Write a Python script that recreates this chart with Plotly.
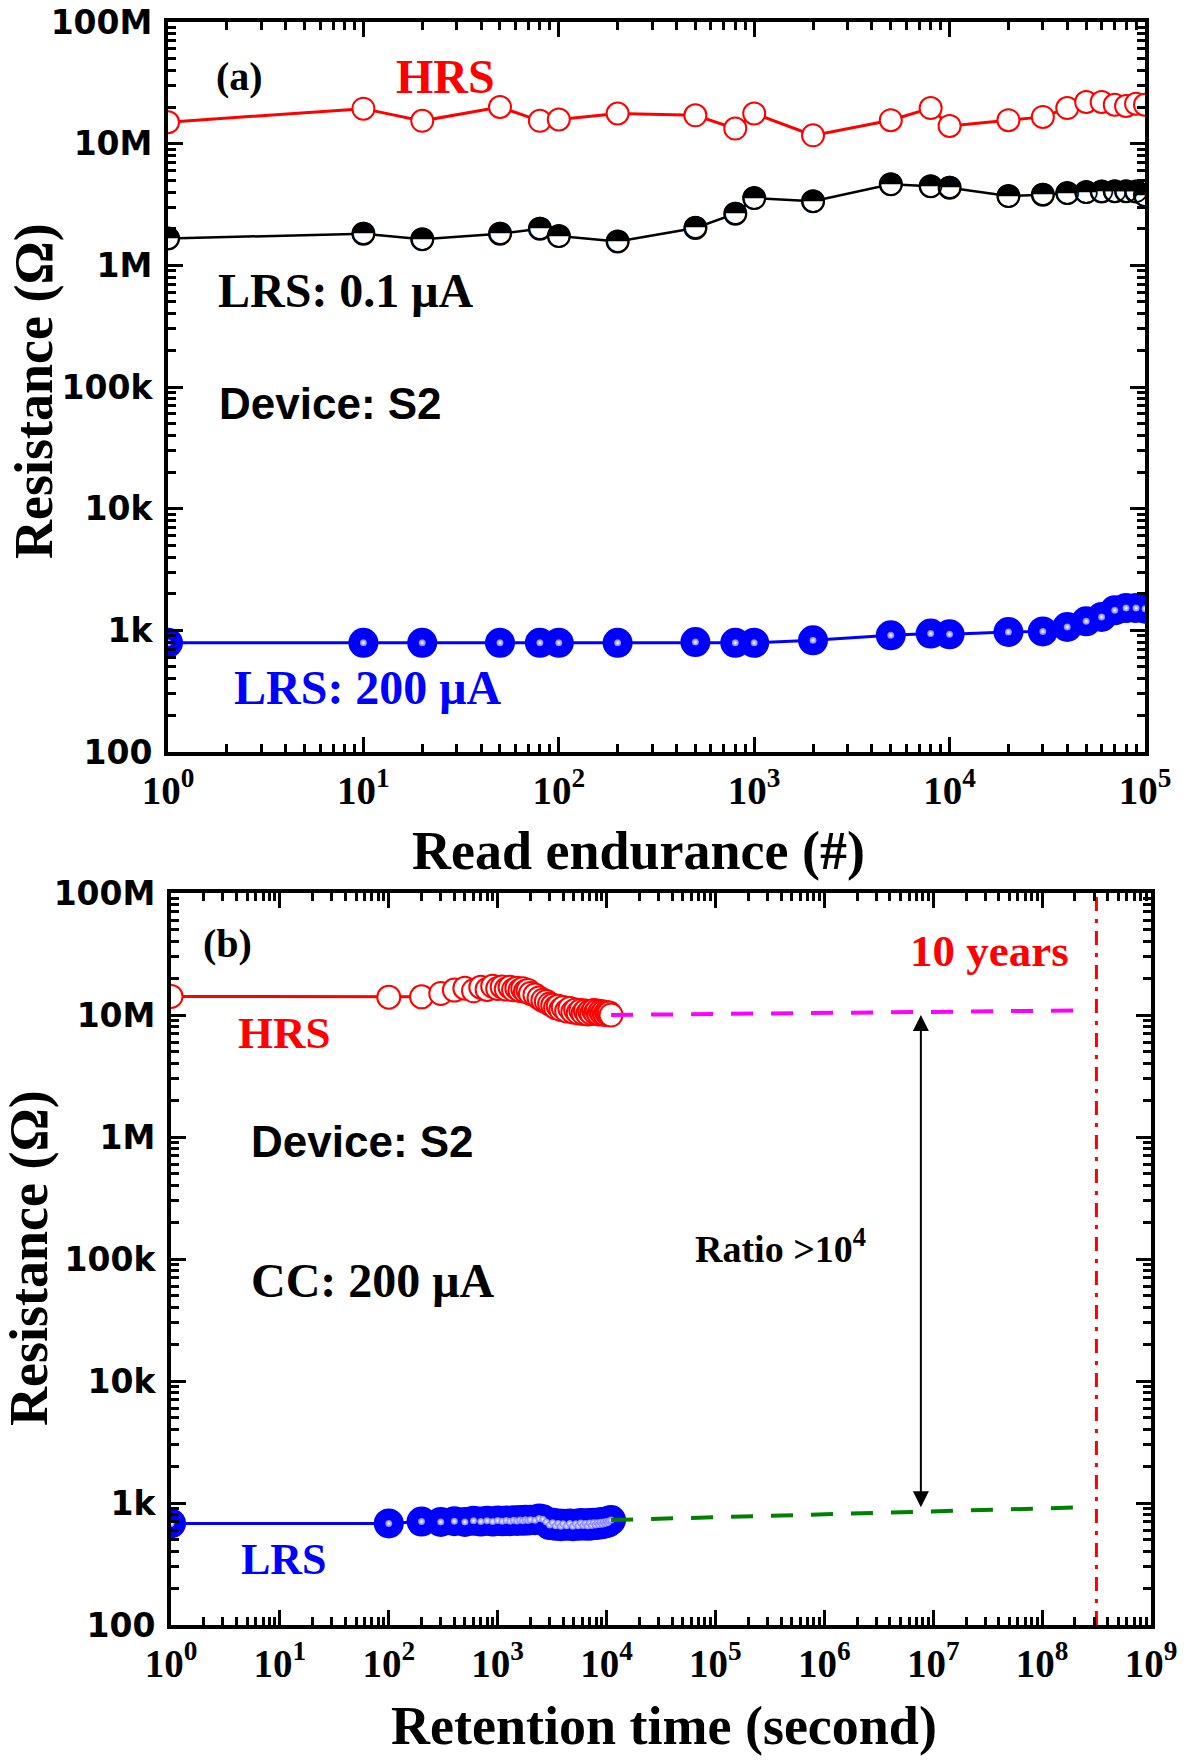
import math
import plotly.graph_objects as go

W, H = 1188, 1761

# ---------------- Panel (a): read endurance ----------------
cycles = [1, 10, 20, 50, 80, 100, 200, 500, 800, 1000, 2000, 5000, 8000, 10000,
          20000, 30000, 40000, 50000, 60000, 70000, 80000, 90000, 100000]
hrs_a = [15.0e6, 19.4e6, 15.4e6, 20.0e6, 15.4e6, 15.8e6, 17.7e6, 17.1e6, 13.3e6, 17.7e6,
         11.7e6, 15.6e6, 19.6e6, 14.0e6, 15.6e6, 16.6e6, 19.6e6, 22.0e6, 22.0e6, 20.9e6,
         20.4e6, 21.3e6, 20.9e6]
lrs01_a = [1.66e6, 1.82e6, 1.64e6, 1.82e6, 2.0e6, 1.74e6, 1.57e6, 2.03e6, 2.66e6, 3.57e6,
           3.36e6, 4.63e6, 4.46e6, 4.35e6, 3.71e6, 3.8e6, 3.93e6, 4.0e6, 4.05e6, 4.07e6,
           4.07e6, 4.05e6, 3.76e6]
lrs200_a = [790, 790, 790, 790, 790, 790, 790, 800, 790, 790, 828, 910, 940, 927, 969, 980,
            1065, 1185, 1287, 1460, 1525, 1525, 1506]

# ---------------- Panel (b): retention ----------------
ret_time = [1, 100, 200, 300, 400, 500, 600, 700, 800, 900, 1000, 1100, 1200, 1300, 1400,
            1500, 1600, 1700, 1800, 1900, 2000, 2200, 2400, 2600, 2800, 3000, 3200, 3400,
            3600, 3800, 4000, 4300, 4600, 4900, 5200, 5500, 5800, 6100, 6400, 6700, 7000,
            7300, 7600, 7900, 8200, 8500, 8800, 9100, 9400, 9700, 10000, 10300, 10600, 11000]
hrs_b_M = [14.2, 14.0, 14.1, 15.0, 16.0, 16.6, 15.8, 16.9, 16.2, 17.2, 16.5, 17.0, 16.3, 16.9,
           16.1, 16.6, 15.9, 16.4, 15.6, 15.9, 15.0, 14.6, 13.8, 13.2, 12.9, 12.3, 12.0, 11.5,
           11.8, 11.1, 11.5, 10.8, 11.3, 10.6, 11.0, 10.4, 10.9, 10.3, 10.8, 10.2, 10.7, 10.3,
           10.9, 10.4, 10.8, 10.2, 10.7, 10.3, 10.6, 10.1, 10.5, 10.2, 10.4, 10.0]
lrs_b = [680, 680, 705, 700, 710, 700, 715, 705, 715, 705, 718, 708, 720, 710, 722, 712, 725,
         715, 728, 718, 730, 722, 745, 735, 700, 660, 690, 650, 680, 645, 675, 650, 680, 645,
         675, 650, 685, 655, 680, 650, 685, 655, 690, 660, 690, 665, 695, 670, 700, 680, 705,
         690, 715, 725]
hrs_fit_time = [1.1e4, 2.2e8]
hrs_fit_res = [1.0e7, 1.09e7]
lrs_fit_time = [1.1e4, 2.2e8]
lrs_fit_res = [725, 920]
ten_years = 3.1536e8
arrow_time = 7.7e6

y_tickvals = [1e2, 1e3, 1e4, 1e5, 1e6, 1e7, 1e8]
y_ticktext = ['100', '1k', '10k', '100k', '1M', '10M', '100M']
xa_tickvals = [10 ** k for k in range(0, 6)]
xa_ticktext = ['10<sup>%d</sup>' % k for k in range(0, 6)]
xb_tickvals = [10 ** k for k in range(0, 10)]
xb_ticktext = ['10<sup>%d</sup>' % k for k in range(0, 10)]

RED = '#ff0000'
BLUE = '#0000ff'
BLACK = '#000000'
SERIF = 'Liberation Serif'
SANS = 'Liberation Sans'

fig = go.Figure()


def add_open(x, y, xa, ya, size=22, lw=3):
    fig.add_trace(go.Scatter(x=x, y=y, xaxis=xa, yaxis=ya, mode='lines+markers',
                             line=dict(color=RED, width=lw),
                             marker=dict(symbol='circle', size=size, color='white',
                                         line=dict(color=RED, width=2)),
                             hoverinfo='skip', showlegend=False))


def add_half(x, y, xa, ya):
    fig.add_trace(go.Scatter(x=x, y=y, xaxis=xa, yaxis=ya, mode='lines+markers',
                             line=dict(color=BLACK, width=2.5),
                             marker=dict(symbol='circle', size=22, color='white',
                                         line=dict(color=BLACK, width=2)),
                             hoverinfo='skip', showlegend=False))
    fig.add_trace(go.Scatter(x=x, y=y, xaxis=xa, yaxis=ya, mode='text',
                             text=['\u25D3'] * len(x), textposition='middle center',
                             textfont=dict(family='DejaVu Sans', size=30, color=BLACK),
                             hoverinfo='skip', showlegend=False))


def add_ball(x, y, xa, ya, size=30):
    fig.add_trace(go.Scatter(x=x, y=y, xaxis=xa, yaxis=ya, mode='lines+markers',
                             line=dict(color=BLUE, width=3),
                             marker=dict(symbol='circle', size=size, color=BLUE,
                                         line=dict(width=0)),
                             hoverinfo='skip', showlegend=False))
    fig.add_trace(go.Scatter(x=x, y=y, xaxis=xa, yaxis=ya, mode='markers',
                             marker=dict(symbol='circle', size=7, color='#7878ff',
                                         gradient=dict(type='radial', color='white'),
                                         line=dict(width=0)),
                             hoverinfo='skip', showlegend=False))


# panel (a)
add_open(cycles, hrs_a, 'x', 'y')
add_half(cycles, lrs01_a, 'x', 'y')
add_ball(cycles, lrs200_a, 'x', 'y')

# panel (b)
hrs_b = [v * 1e6 for v in hrs_b_M]
add_open(ret_time, hrs_b, 'x2', 'y2', size=23, lw=3)
add_ball(ret_time, lrs_b, 'x2', 'y2', size=30)
fig.add_trace(go.Scatter(x=hrs_fit_time, y=hrs_fit_res, xaxis='x2', yaxis='y2', mode='lines',
                         line=dict(color='#ff00ff', width=4, dash='22px,18px'),
                         hoverinfo='skip', showlegend=False))
fig.add_trace(go.Scatter(x=lrs_fit_time, y=lrs_fit_res, xaxis='x2', yaxis='y2', mode='lines',
                         line=dict(color='#008000', width=4, dash='22px,18px'),
                         hoverinfo='skip', showlegend=False))
fig.add_trace(go.Scatter(x=[ten_years, ten_years], y=[y_tickvals[0], y_tickvals[-1]],
                         xaxis='x2', yaxis='y2', mode='lines',
                         line=dict(color=RED, width=3, dash='14px,8px,4px,8px'),
                         hoverinfo='skip', showlegend=False))


def fit_at(t, ts, rs):
    f = (math.log10(t) - math.log10(ts[0])) / (math.log10(ts[1]) - math.log10(ts[0]))
    return math.log10(rs[0]) + f * (math.log10(rs[1]) - math.log10(rs[0]))


def axis(tickvals, ticktext, domain, anchor, rng, labfont, standoff):
    return dict(type='log', range=rng, domain=domain, anchor=anchor, automargin=False,
                tickmode='array', tickvals=tickvals, ticktext=ticktext,
                tickfont=labfont, ticklabelstandoff=standoff,
                showline=True, linewidth=4, linecolor=BLACK, mirror='allticks',
                ticks='inside', ticklen=15, tickwidth=3, tickcolor=BLACK,
                minor=dict(ticks='inside', ticklen=8, tickwidth=2.5, tickcolor=BLACK,
                           dtick='D1', showgrid=False),
                showgrid=False, zeroline=False)


xfont = dict(family=SERIF, size=39, color=BLACK, weight='bold')
yfont = dict(family='DejaVu Sans', size=33, color=BLACK, weight='bold')

fig.update_layout(
    width=W, height=H, autosize=False,
    margin=dict(l=0, r=0, t=0, b=0, autoexpand=False),
    paper_bgcolor='white', plot_bgcolor='white',
    showlegend=False,
    xaxis=axis(xa_tickvals, xa_ticktext, [168 / W, 1145 / W], 'y', [0, 5], xfont, 1),
    yaxis=axis(y_tickvals, y_ticktext, [1 - 752 / H, 1 - 22 / H], 'x', [2, 8], yfont, 5),
    xaxis2=axis(xb_tickvals, xb_ticktext, [171 / W, 1151 / W], 'y2', [0, 9], xfont, 1),
    yaxis2=axis(y_tickvals, y_ticktext, [1 - 1625 / H, 1 - 893 / H], 'x2', [2, 8], yfont, 5),
)

anns = []


def ann(text, px, py, size, color=BLACK, family=SERIF, xanchor='left', angle=0):
    anns.append(dict(text='<b>%s</b>' % text, x=px / W, y=1 - py / H, xref='paper', yref='paper',
                     xanchor=xanchor, yanchor='middle', showarrow=False, textangle=angle,
                     font=dict(family=family, size=size, color=color)))


# panel (a) texts
ann('(a)', 239, 76, 40, xanchor='center')
ann('HRS', 445, 76, 48, color=RED, xanchor='center')
ann('LRS: 0.1 \u03bcA', 216, 290, 48)
ann('Device: S2', 217, 404, 44, family=SANS)
ann('LRS: 200 \u03bcA', 232, 687, 48, color=BLUE)
ann('Read endurance (#)', 638, 851, 54, xanchor='center')
ann('Resistance (\u03a9)', 34, 391, 54, xanchor='center', angle=-90)

# panel (b) texts
ann('(b)', 227, 943, 40, xanchor='center')
ann('HRS', 236, 1033, 45, color=RED)
ann('10 years', 989, 951, 45, color=RED, xanchor='center')
ann('Device: S2', 249, 1141, 44, family=SANS)
ann('CC: 200 \u03bcA', 249, 1280, 48)
ann('Ratio >10<sup>4</sup>', 693, 1246, 38)
ann('LRS', 239, 1559, 44, color=BLUE)
ann('Retention time (second)', 664, 1726, 54, xanchor='center')
ann('Resistance (\u03a9)', 29, 1258, 54, xanchor='center', angle=-90)

# double-headed arrow between the two extrapolations
lx = math.log10(arrow_time)
anns.append(dict(xref='x2', yref='y2', axref='x2', ayref='y2', text='',
                 x=lx, y=fit_at(arrow_time, hrs_fit_time, hrs_fit_res),
                 ax=lx, ay=fit_at(arrow_time, lrs_fit_time, lrs_fit_res),
                 showarrow=True, arrowhead=2, arrowside='end+start', arrowsize=1.6,
                 arrowwidth=2, arrowcolor=BLACK, standoff=3, startstandoff=3))

fig.update_layout(annotations=anns)

fig.write_html('out.html', config={'displayModeBar': False, 'displaylogo': False},
               post_script="document.body.style.margin='0px';document.body.style.padding='0px';")
